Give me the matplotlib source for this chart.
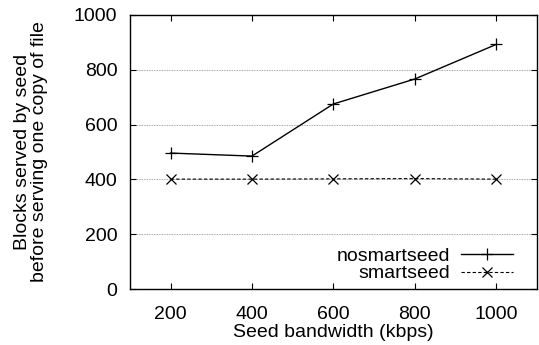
import matplotlib.pyplot as plt

plt.rcParams['font.family'] = ['Liberation Sans', 'DejaVu Sans']

# seed bandwidth (kbps) and blocks served before one full copy
bandwidth = [200, 400, 600, 800, 1000]
nosmartseed = [496, 485, 675, 766, 892]
smartseed = [401, 401, 402, 403, 401]

fig = plt.figure(figsize=(5.39, 3.45), dpi=100)
ax = fig.add_axes([0.241, 0.162, 0.755, 0.795])

ax.plot(bandwidth, nosmartseed, color="black", linewidth=1.0,
        marker="+", markersize=8, markeredgewidth=0.9, label="nosmartseed")
ax.plot(bandwidth, smartseed, color="black", linewidth=0.8, linestyle=(0, (3, 2)),
        marker="x", markersize=7.5, markeredgewidth=0.9, label="smartseed")

ax.set_xlim(100, 1100)
ax.set_ylim(0, 1000)
ax.set_xticks(bandwidth)
ax.set_yticks([0, 200, 400, 600, 800, 1000])
ax.yaxis.grid(True, color="#888888", linestyle=(0, (1, 1)), linewidth=0.6)
ax.tick_params(direction="in", top=True, right=True, length=4, labelsize=14)
ax.tick_params(axis="x", pad=12)
ax.tick_params(axis="y", pad=9)
for s in ax.spines.values():
    s.set_linewidth(1.0)

ax.set_xlabel("Seed bandwidth (kbps)", fontsize=14, labelpad=1)
ax.set_ylabel("Blocks served by seed\nbefore serving one copy of file", fontsize=14,
              labelpad=19, linespacing=1.0)

ax.legend(loc="lower right", bbox_to_anchor=(0.975, -0.025), frameon=False, markerfirst=False,
          fontsize=14, handlelength=2.7, handletextpad=0.55, labelspacing=0.0,
          borderaxespad=0.3)

fig.savefig("out.png", dpi=100)
